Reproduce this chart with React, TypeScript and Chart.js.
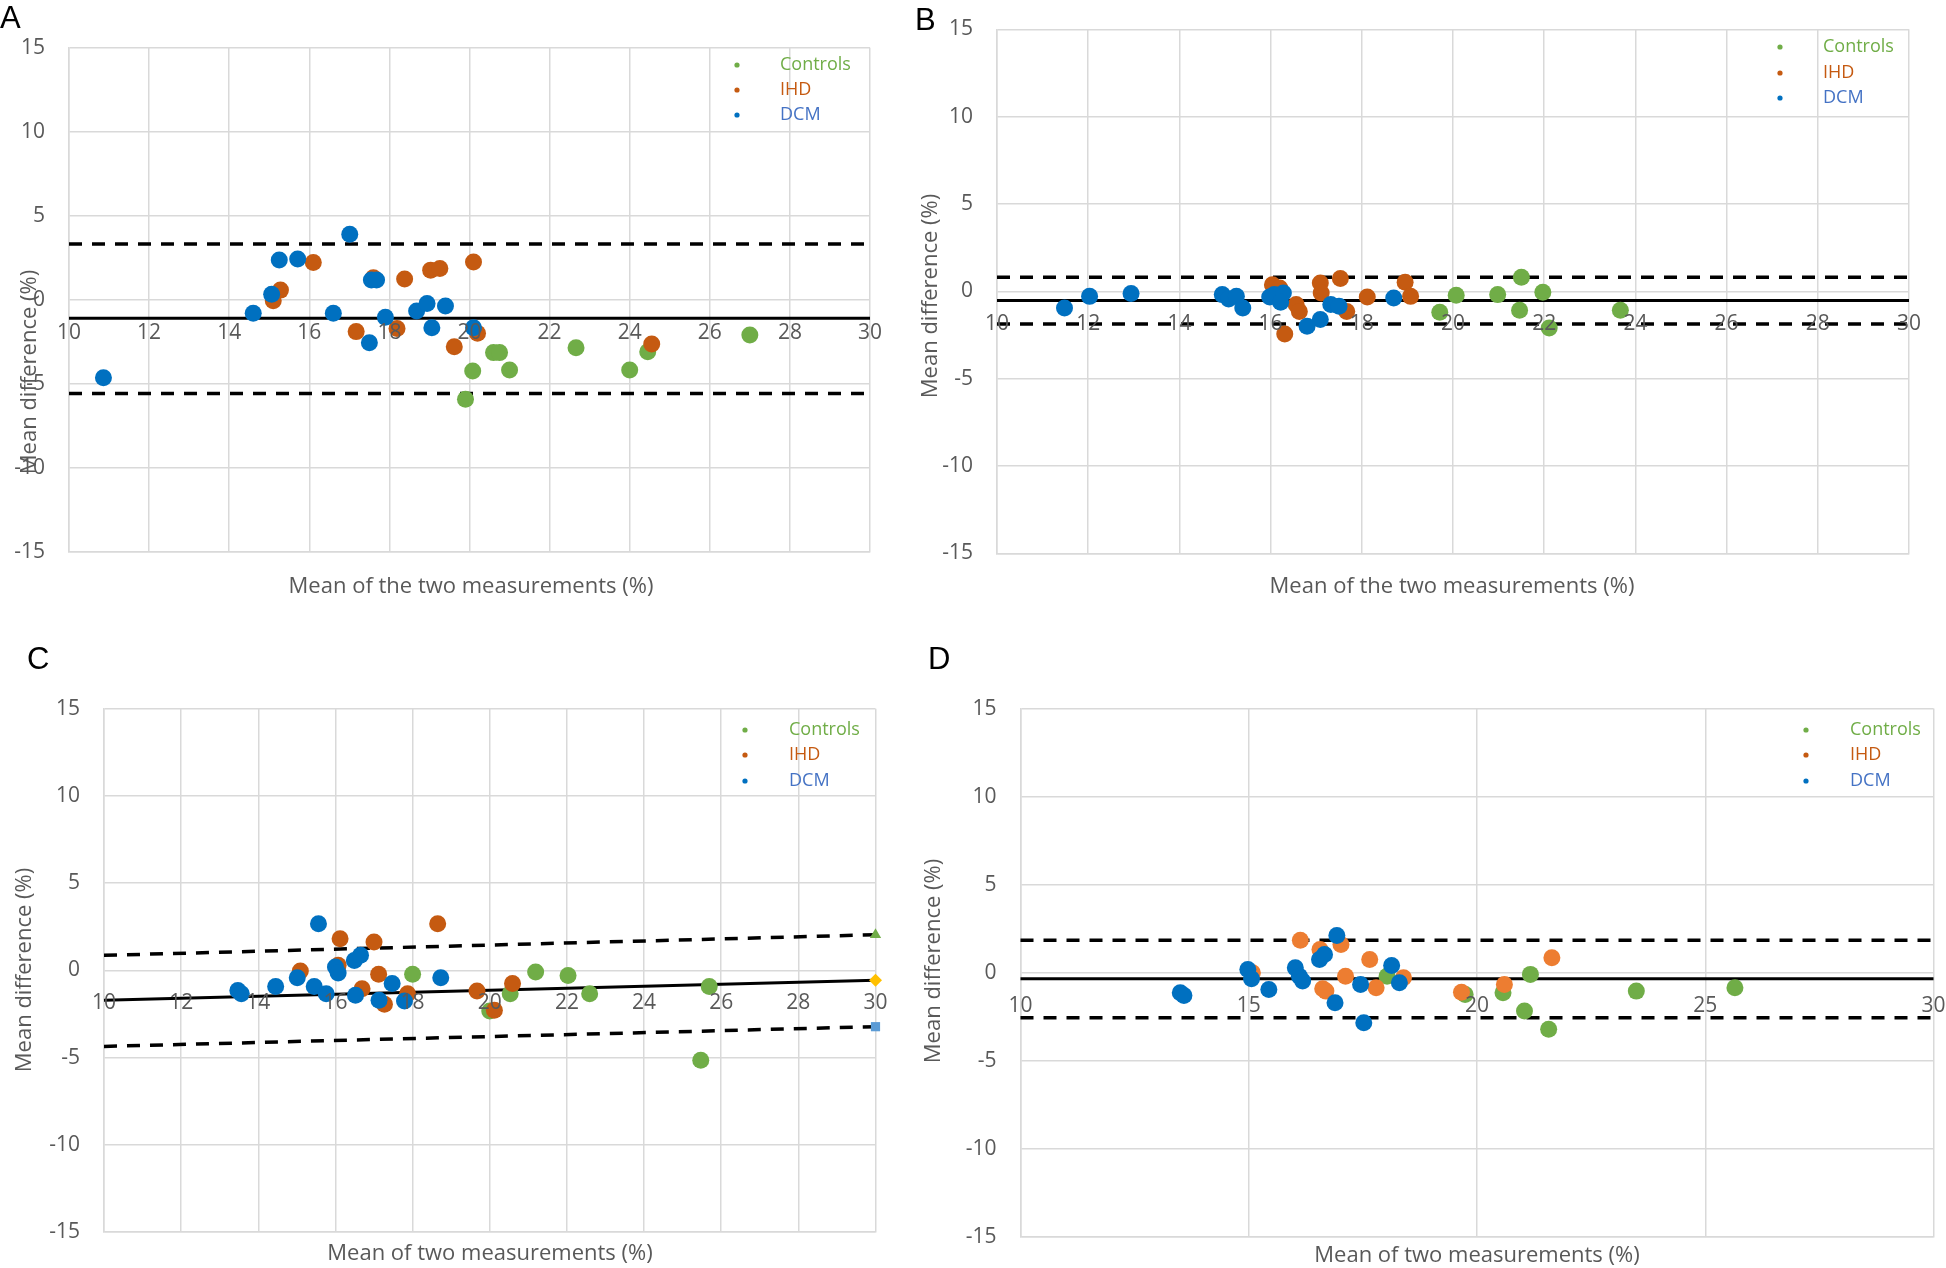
import React, { useEffect, useRef } from "react";
import { Chart, registerables } from "chart.js";
Chart.register(...registerables);

type Pt = [number, number];

const W = 1946;
const H = 1268;

const GREEN = "#70AD47";
const ORANGE = "#C55A11";
const ORANGE_D = "#ED7D31";
const BLUE = "#0070C0";
const BLUE_TEXT = "#4472C4";
const GRID = "#D9D9D9";
const TICK = "#595959";

const yTickLabels = [15, 10, 5, 0, -5, -10, -15];
const xTicksTwo = [10, 12, 14, 16, 18, 20, 22, 24, 26, 28, 30];
const xTicksFive = [10, 15, 20, 25, 30];
const legendNames = ["Controls", "IHD", "DCM"];

// ---------- Panel A ----------
const aControls: Pt[] = [[27.0, -2.1], [22.66, -2.86], [20.6, -3.15], [20.75, -3.15], [24.45, -3.1], [20.08, -4.24], [21.0, -4.18], [24.0, -4.18], [19.9, -5.93]];
const aIHD: Pt[] = [[16.1, 2.22], [15.28, 0.57], [15.1, -0.06], [17.6, 1.3], [18.38, 1.23], [19.03, 1.76], [19.26, 1.86], [20.1, 2.24], [17.17, -1.9], [18.19, -1.71], [19.62, -2.8], [20.2, -2.0], [24.55, -2.64]];
const aDCM: Pt[] = [[17.01, 3.89], [15.25, 2.36], [15.71, 2.42], [17.55, 1.17], [17.68, 1.17], [15.06, 0.32], [14.6, -0.81], [16.6, -0.81], [17.9, -1.05], [18.68, -0.67], [18.94, -0.22], [19.4, -0.38], [19.06, -1.67], [17.5, -2.56], [20.1, -1.67], [10.86, -4.64]];
const aBias = -1.1;
const aUpper = 3.32;
const aLower = -5.58;

// ---------- Panel B ----------
const bControls: Pt[] = [[21.5, 0.8], [20.07, -0.23], [19.71, -1.2], [20.98, -0.19], [21.97, -0.06], [21.46, -1.09], [22.11, -2.1], [23.67, -1.09]];
const bIHD: Pt[] = [[16.04, 0.38], [16.2, 0.19], [16.56, -0.76], [16.63, -1.15], [16.31, -2.44], [17.09, 0.48], [17.11, -0.1], [17.53, 0.73], [17.67, -1.15], [18.12, -0.32], [18.95, 0.52], [19.07, -0.29]];
const bDCM: Pt[] = [[11.48, -0.95], [12.03, -0.29], [12.94, -0.13], [14.94, -0.19], [15.08, -0.44], [15.25, -0.29], [15.39, -0.95], [15.98, -0.32], [16.08, -0.19], [16.28, -0.1], [16.22, -0.63], [16.8, -2.0], [17.09, -1.62], [17.32, -0.76], [17.5, -0.86], [18.7, -0.38]];
const bBias = -0.53;
const bUpper = 0.8;
const bLower = -1.87;

// ---------- Panel C ----------
const cControls: Pt[] = [[18.0, -0.23], [21.19, -0.1], [22.03, -0.29], [22.59, -1.34], [25.69, -0.92], [25.47, -5.16], [20.53, -1.34], [20.0, -2.33]];
const cIHD: Pt[] = [[16.12, 1.81], [17.0, 1.62], [18.65, 2.67], [15.09, -0.04], [16.07, 0.29], [17.12, -0.23], [16.69, -1.05], [17.27, -1.95], [17.87, -1.34], [19.67, -1.18], [20.12, -2.29], [20.59, -0.76]];
const cDCM: Pt[] = [[15.56, 2.67], [13.47, -1.15], [13.56, -1.34], [14.45, -0.92], [15.01, -0.42], [15.45, -0.92], [15.76, -1.34], [16.0, 0.19], [16.07, -0.15], [16.49, 0.57], [16.65, 0.86], [16.52, -1.43], [17.13, -1.72], [17.47, -0.76], [17.79, -1.76], [18.73, -0.42]];
const cBias: Pt = [-1.72, -0.57];
const cUpper: Pt = [0.86, 2.04];
const cLower: Pt = [-4.36, -3.23];

// ---------- Panel D ----------
const dControls: Pt[] = [[18.03, -0.19], [21.17, -0.09], [19.74, -1.23], [20.57, -1.13], [21.04, -2.17], [21.57, -3.21], [23.49, -1.04], [25.65, -0.85]];
const dIHD: Pt[] = [[16.13, 1.85], [16.56, 1.32], [17.02, 1.61], [15.08, 0.0], [17.12, -0.19], [17.65, 0.76], [16.62, -0.91], [16.69, -1.04], [17.79, -0.85], [18.39, -0.28], [19.66, -1.1], [20.6, -0.66], [21.64, 0.85]];
const dDCM: Pt[] = [[16.93, 2.12], [13.5, -1.13], [13.58, -1.29], [14.98, 0.19], [15.06, -0.34], [15.44, -0.95], [16.02, 0.28], [16.11, -0.19], [16.18, -0.47], [16.55, 0.76], [16.66, 1.04], [16.89, -1.7], [17.45, -0.66], [17.52, -2.84], [18.13, 0.42], [18.3, -0.57]];
const dBias = -0.34;
const dUpper = 1.85;
const dLower = -2.55;

interface LineSpec {
  y0: number;
  y1: number;
  dashed: boolean;
  marker?: string;
  markerColor?: string;
}

interface PanelSpec {
  letter: string;
  letterPos: [number, number];
  area: { l: number; t: number; r: number; b: number };
  xTicks: number[];
  xStep: number;
  controls: Pt[];
  ihd: Pt[];
  dcm: Pt[];
  ihdColor: string;
  lines: LineSpec[];
  legend: { dotX: number; textX: number; rows: number[] };
  xTitle: string;
  xTitlePos: [number, number];
  yTitlePos: [number, number];
}

const panels: PanelSpec[] = [
  {
    letter: "A",
    letterPos: [0, 28],
    area: { l: 69, t: 47.7, r: 870, b: 551.7 },
    xTicks: xTicksTwo,
    xStep: 2,
    controls: aControls,
    ihd: aIHD,
    dcm: aDCM,
    ihdColor: ORANGE,
    lines: [
      { y0: aBias, y1: aBias, dashed: false },
      { y0: aUpper, y1: aUpper, dashed: true },
      { y0: aLower, y1: aLower, dashed: true },
    ],
    legend: { dotX: 737, textX: 780, rows: [65, 90, 115] },
    xTitle: "Mean of the two measurements (%)",
    xTitlePos: [471, 587],
    yTitlePos: [30, 372],
  },
  {
    letter: "B",
    letterPos: [915, 30],
    area: { l: 997, t: 29.3, r: 1909, b: 553.3 },
    xTicks: xTicksTwo,
    xStep: 2,
    controls: bControls,
    ihd: bIHD,
    dcm: bDCM,
    ihdColor: ORANGE,
    lines: [
      { y0: bBias, y1: bBias, dashed: false },
      { y0: bUpper, y1: bUpper, dashed: true },
      { y0: bLower, y1: bLower, dashed: true },
    ],
    legend: { dotX: 1780, textX: 1823, rows: [47, 73, 98] },
    xTitle: "Mean of the two measurements (%)",
    xTitlePos: [1452, 587],
    yTitlePos: [931, 296],
  },
  {
    letter: "C",
    letterPos: [27, 669],
    area: { l: 104, t: 708.7, r: 875.5, b: 1232 },
    xTicks: xTicksTwo,
    xStep: 2,
    controls: cControls,
    ihd: cIHD,
    dcm: cDCM,
    ihdColor: ORANGE,
    lines: [
      { y0: cBias[0], y1: cBias[1], dashed: false, marker: "rectRot", markerColor: "#FFC000" },
      { y0: cUpper[0], y1: cUpper[1], dashed: true, marker: "triangle", markerColor: GREEN },
      { y0: cLower[0], y1: cLower[1], dashed: true, marker: "rect", markerColor: "#5B9BD5" },
    ],
    legend: { dotX: 745, textX: 789, rows: [730, 755, 781] },
    xTitle: "Mean of two measurements (%)",
    xTitlePos: [490, 1254],
    yTitlePos: [25, 970],
  },
  {
    letter: "D",
    letterPos: [928, 669],
    area: { l: 1020.5, t: 708.6, r: 1933.5, b: 1237 },
    xTicks: xTicksFive,
    xStep: 5,
    controls: dControls,
    ihd: dIHD,
    dcm: dDCM,
    ihdColor: ORANGE_D,
    lines: [
      { y0: dBias, y1: dBias, dashed: false },
      { y0: dUpper, y1: dUpper, dashed: true },
      { y0: dLower, y1: dLower, dashed: true },
    ],
    legend: { dotX: 1806, textX: 1850, rows: [730, 755, 781] },
    xTitle: "Mean of two measurements (%)",
    xTitlePos: [1477, 1256],
    yTitlePos: [934, 961],
  },
];

const FONT = '"Open Sans", "Noto Sans", sans-serif';

function makeTextPlugin(p: PanelSpec) {
  return {
    id: "text" + p.letter,
    afterDraw(chart: any) {
      const ctx: CanvasRenderingContext2D = chart.ctx;
      const xs = chart.scales.x;
      const ys = chart.scales.y;
      ctx.save();
      // y tick labels
      ctx.fillStyle = TICK;
      ctx.font = "21px " + FONT;
      ctx.textAlign = "right";
      ctx.textBaseline = "middle";
      yTickLabels.forEach((v) => {
        ctx.fillText(String(v), xs.left - 24, ys.getPixelForValue(v));
      });
      // x tick labels below the zero line
      ctx.textAlign = "center";
      const y0 = ys.getPixelForValue(0) + 33;
      p.xTicks.forEach((v) => {
        ctx.fillText(String(v), xs.getPixelForValue(v), y0);
      });
      // axis titles
      ctx.font = "22px " + FONT;
      ctx.fillText(p.xTitle, p.xTitlePos[0], p.xTitlePos[1]);
      ctx.save();
      ctx.translate(p.yTitlePos[0], p.yTitlePos[1]);
      ctx.rotate(-Math.PI / 2);
      ctx.fillText("Mean difference (%)", 0, 0);
      ctx.restore();
      // legend
      const cols = [GREEN, ORANGE, BLUE];
      const textCols = [GREEN, ORANGE, BLUE_TEXT];
      ctx.font = "18px " + FONT;
      ctx.textAlign = "left";
      legendNames.forEach((name, i) => {
        const yy = p.legend.rows[i];
        ctx.fillStyle = cols[i];
        ctx.beginPath();
        ctx.arc(p.legend.dotX, yy, 2.6, 0, Math.PI * 2);
        ctx.fill();
        ctx.fillStyle = textCols[i];
        ctx.fillText(name, p.legend.textX, yy);
      });
      // panel letter
      ctx.fillStyle = "#000";
      ctx.font = '31px "Liberation Sans", Arial, sans-serif';
      ctx.textBaseline = "alphabetic";
      ctx.fillText(p.letter, p.letterPos[0], p.letterPos[1]);
      ctx.restore();
    },
  };
}

function makeConfig(p: PanelSpec): any {
  const toXY = (arr: Pt[]) => arr.map(([x, y]) => ({ x, y }));
  const datasets: any[] = [
    { type: "scatter", label: "DCM", data: toXY(p.dcm), backgroundColor: BLUE, borderWidth: 0, pointRadius: 8.5, order: 0, clip: false },
    { type: "scatter", label: "IHD", data: toXY(p.ihd), backgroundColor: p.ihdColor, borderWidth: 0, pointRadius: 8.5, order: 1, clip: false },
    { type: "scatter", label: "Controls", data: toXY(p.controls), backgroundColor: GREEN, borderWidth: 0, pointRadius: 8.5, order: 2, clip: false },
  ];
  p.lines.forEach((l, i) => {
    datasets.push({
      type: "line",
      label: "line" + i,
      data: [
        { x: 10, y: l.y0 },
        { x: 30, y: l.y1 },
      ],
      borderColor: "#000",
      borderWidth: l.dashed ? 3.5 : 3,
      borderDash: l.dashed ? [13, 10] : [],
      borderCapStyle: "butt",
      fill: false,
      tension: 0,
      clip: false,
      pointRadius: [0, l.marker ? 6.5 : 0],
      pointStyle: l.marker || "circle",
      pointBackgroundColor: l.markerColor || "#000",
      pointBorderColor: l.markerColor || "#000",
      pointBorderWidth: 0,
      order: 3,
    });
  });
  const gridOpts = { color: GRID, lineWidth: 1.5, drawTicks: false };
  const borderOpts = { display: true, color: GRID, width: 1.5 };
  return {
    type: "scatter",
    data: { datasets },
    options: {
      animation: false,
      responsive: false,
      devicePixelRatio: 1,
      events: [],
      layout: {
        padding: { left: p.area.l, top: p.area.t, right: W - p.area.r, bottom: H - p.area.b },
      },
      plugins: { legend: { display: false }, tooltip: { enabled: false }, title: { display: false } },
      scales: {
        x: { type: "linear", min: 10, max: 30, ticks: { stepSize: p.xStep, display: false }, grid: gridOpts, border: borderOpts },
        y: { type: "linear", min: -15, max: 15, ticks: { stepSize: 5, display: false }, grid: gridOpts, border: borderOpts },
      },
    },
    plugins: [makeTextPlugin(p)],
  };
}

function Panel({ spec }: { spec: PanelSpec }) {
  const ref = useRef<HTMLCanvasElement | null>(null);
  useEffect(() => {
    if (!ref.current) return;
    const chart = new Chart(ref.current, makeConfig(spec));
    return () => chart.destroy();
  }, [spec]);
  return (
    <canvas
      ref={ref}
      width={W}
      height={H}
      style={{ position: "absolute", left: 0, top: 0, width: W, height: H }}
    />
  );
}

export default function App() {
  useEffect(() => {
    document.body.style.margin = "0";
    document.body.style.background = "#fff";
  }, []);
  return (
    <div style={{ position: "relative", width: W, height: H, background: "#fff", overflow: "hidden" }}>
      {panels.map((p) => (
        <Panel key={p.letter} spec={p} />
      ))}
    </div>
  );
}
